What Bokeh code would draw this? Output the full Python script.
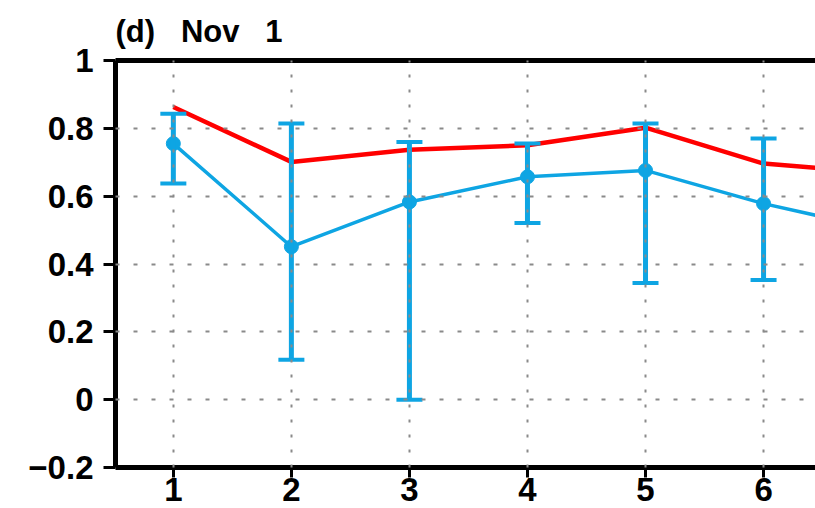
from bokeh.plotting import figure
from bokeh.models import Range1d, LinearAxis, FixedTicker, Whisker, TeeHead, ColumnDataSource
from bokeh.embed import file_html
from bokeh.resources import INLINE

# data
x_line = [1, 2, 3, 4, 5, 6, 7]
red_vals = [0.863, 0.701, 0.737, 0.750, 0.802, 0.696, 0.668]
blue_vals = [0.755, 0.451, 0.583, 0.657, 0.676, 0.578, 0.500]
x_err = [1, 2, 3, 4, 5, 6]
err_upper = [0.843, 0.814, 0.760, 0.755, 0.814, 0.770]
err_lower = [0.637, 0.118, 0.000, 0.521, 0.344, 0.353]
x_ticks = [1, 2, 3, 4, 5, 6]
y_ticks = [-0.2, 0, 0.2, 0.4, 0.6, 0.8, 1.0]
title_text = "(d)\u00a0\u00a0\u00a0Nov\u00a0\u00a0\u00a01"

BLUE = "#0EA5E3"
RED = "#FF0000"
FONT = "Liberation Sans"

p = figure(width=815, height=508, output_backend="svg", toolbar_location=None,
           x_range=Range1d(0.51, 6.44), y_range=Range1d(-0.2, 1.0),
           min_border_left=115, min_border_right=0, min_border_top=60, min_border_bottom=41)
p.outline_line_color = None
p.background_fill_color = "white"

p.title.text = title_text
p.title.text_font = FONT
p.title.text_font_size = "31px"
p.title.text_font_style = "bold"
p.title.text_color = "black"
p.title.align = "left"
p.title.offset = 0
p.title.standoff = 23

# axes
p.xaxis.ticker = FixedTicker(ticks=x_ticks)
p.yaxis.ticker = FixedTicker(ticks=y_ticks)
p.yaxis.major_label_overrides = {-0.2: "\u22120.2", 0: "0", 1.0: "1"}
for ax in (p.xaxis[0], p.yaxis[0]):
    ax.axis_line_width = 5
    ax.axis_line_color = "black"
    ax.major_tick_line_width = 3
    ax.major_tick_line_color = "black"
    ax.major_tick_in = 0
    ax.minor_tick_line_color = None
    ax.major_label_text_font = FONT
    ax.major_label_text_font_size = "33px"
    ax.major_label_text_font_style = "bold"
    ax.major_label_text_color = "black"
p.yaxis.major_tick_out = 12
p.yaxis.major_label_standoff = 10
p.xaxis.major_tick_out = 10
p.xaxis.major_label_standoff = 0

top_axis = LinearAxis(ticker=FixedTicker(ticks=[]), axis_line_width=5,
                      major_tick_line_color=None, minor_tick_line_color=None,
                      major_label_text_font_size="0px", major_label_standoff=0)
p.add_layout(top_axis, "above")

# grid
p.xgrid.ticker = FixedTicker(ticks=x_ticks)
p.ygrid.ticker = FixedTicker(ticks=y_ticks)
p.xgrid.grid_line_color = "#8a8a8a"
p.ygrid.grid_line_color = "#8a8a8a"
p.xgrid.grid_line_width = 2
p.ygrid.grid_line_width = 2
p.xgrid.grid_line_dash = "3 12"
p.ygrid.grid_line_dash = "4 14"
p.xgrid.level = "overlay"
p.ygrid.level = "overlay"

# error bars
err_src = ColumnDataSource(dict(x=x_err, upper=err_upper, lower=err_lower))
w = Whisker(source=err_src, base="x", upper="upper", lower="lower",
            line_color=BLUE, line_width=5,
            upper_head=TeeHead(size=26, line_color=BLUE, line_width=4),
            lower_head=TeeHead(size=26, line_color=BLUE, line_width=4))
w.level = "glyph"
p.add_layout(w)

p.line(x_line, blue_vals, line_color=BLUE, line_width=3.5)
p.scatter(x_err, blue_vals[:6], size=14, fill_color=BLUE, line_color=BLUE)
p.line(x_line, red_vals, line_color=RED, line_width=4.5)

open("out.html", "w").write(file_html(p, INLINE))
